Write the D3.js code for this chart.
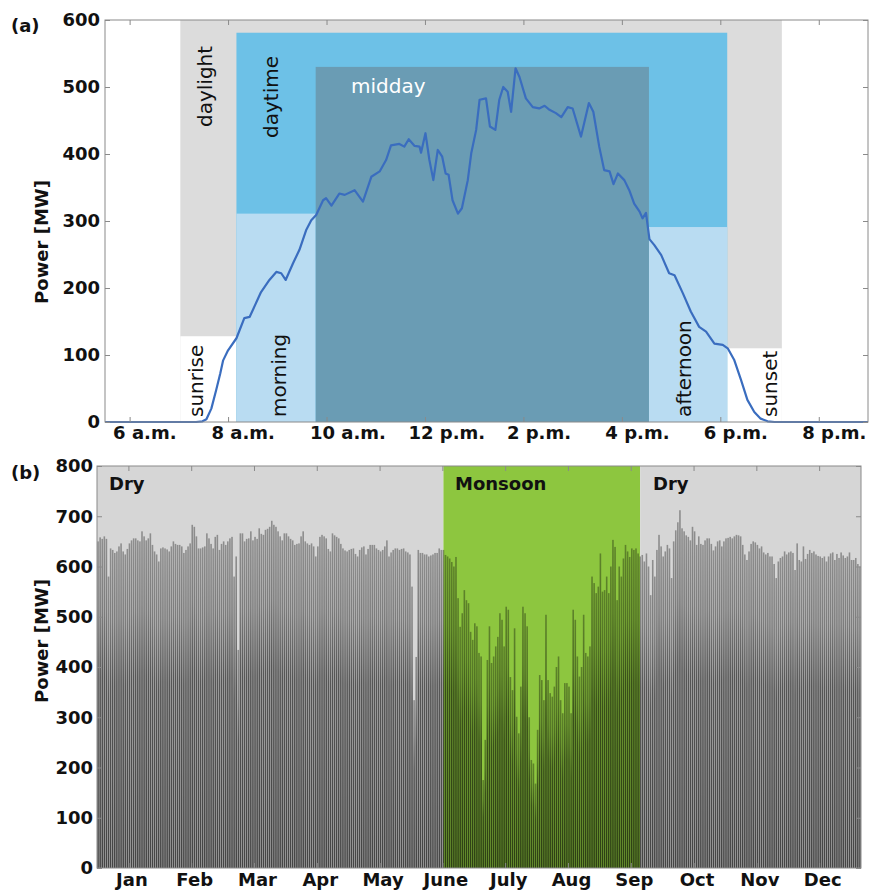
<!DOCTYPE html>
<html>
<head>
<meta charset="utf-8">
<script src="https://cdn.jsdelivr.net/npm/d3@7"></script>
<style>
  html, body { margin: 0; padding: 0; background: #fff; }
  svg { display: block; font-family: "DejaVu Sans", sans-serif; }
</style>
</head>
<body>
<svg id="chart" width="870" height="893"></svg>
<script>
// ---------------- DATA ----------------
// Panel (a): typical daily profile
const hourTicks = [6, 8, 10, 12, 14, 16, 18, 20];
const hourTickLabels = ["6 a.m.", "8 a.m.", "10 a.m.", "12 p.m.", "2 p.m.", "4 p.m.", "6 p.m.", "8 p.m."];
const powerTicksA = [0, 100, 200, 300, 400, 500, 600];

const profileHours = [5.5, 7.35, 7.48, 7.56, 7.66, 7.76, 7.84, 7.9, 8.0, 8.17, 8.33, 8.44, 8.67, 8.84, 8.98, 9.08, 9.17, 9.32, 9.45, 9.59, 9.69, 9.79, 9.93, 9.99, 10.10, 10.26, 10.37, 10.57, 10.74, 10.91, 11.08, 11.21, 11.31, 11.48, 11.58, 11.67, 11.79, 11.89, 11.92, 12.01, 12.09, 12.17, 12.26, 12.35, 12.42, 12.48, 12.56, 12.67, 12.75, 12.87, 12.94, 13.04, 13.11, 13.24, 13.32, 13.43, 13.51, 13.59, 13.68, 13.75, 13.84, 13.92, 14.05, 14.19, 14.32, 14.43, 14.53, 14.66, 14.77, 14.90, 15.0, 15.17, 15.33, 15.42, 15.54, 15.64, 15.75, 15.83, 15.92, 16.05, 16.15, 16.25, 16.36, 16.42, 16.49, 16.56, 16.66, 16.80, 16.96, 17.07, 17.24, 17.40, 17.57, 17.71, 17.88, 18.05, 18.15, 18.28, 18.42, 18.55, 18.69, 18.82, 18.96, 19.1, 21];
const profileMW = [0, 0, 1, 4, 20, 48, 72, 92, 107, 125, 155, 157, 194, 212, 224, 222, 212, 237, 257, 287, 301, 309, 331, 334, 323, 341, 339, 346, 329, 366, 374, 391, 413, 415, 411, 422, 412, 411, 402, 431, 391, 361, 406, 396, 371, 369, 331, 311, 319, 361, 401, 436, 481, 483, 441, 436, 481, 500, 493, 463, 528, 515, 483, 470, 468, 472, 466, 461, 455, 470, 468, 426, 476, 463, 411, 376, 374, 355, 371, 361, 346, 326, 314, 304, 312, 273, 264, 249, 222, 219, 192, 165, 142, 135, 117, 115, 110, 93, 63, 33, 15, 5, 1, 0, 0];

// Periods of the day (start hour, end hour, upper MW of shaded box)
const periodNames  = ["daylight", "sunrise", "sunset", "daytime", "morning", "afternoon", "midday"];
const periodStart  = [7.03, 7.03, 18.14, 8.17, 8.17, 16.55, 9.78];
const periodEnd    = [19.25, 8.17, 19.25, 18.14, 9.78, 18.14, 16.55];
const periodTopMW  = [600, 128, 110, 581, 311, 291, 530];

// Panel (b): one year of daily peaks
const powerTicksB = [0, 100, 200, 300, 400, 500, 600, 700, 800];
const monthLabels = ["Jan", "Feb", "Mar", "Apr", "May", "June", "July", "Aug", "Sep", "Oct", "Nov", "Dec"];
const monthTickDays = [15, 45, 75, 105, 135, 165, 195, 225, 255, 285, 315, 345];
const seasonNames = ["Dry", "Monsoon", "Dry"];
const seasonStartDay = [0, 165.5, 259.5];
const seasonEndDay = [165.5, 259.5, 365];

const dailyPeakMW = [
  650, 658, 655, 660, 655, 580, 636, 633, 627, 630, 640, 646, 630, 624, 635, 646, 652, 656, 656, 652,
  650, 670, 660, 652, 656, 666, 643, 630, 624, 610, 636, 638, 636, 634, 630, 640, 650, 645, 643, 643,
  640, 627, 633, 640, 646, 683, 679, 660, 636, 636, 638, 640, 666, 656, 645, 636, 659, 663, 633, 645,
  650, 643, 650, 656, 659, 580, 620, 434, 666, 666, 650, 655, 656, 670, 652, 659, 655, 676, 665, 663,
  673, 675, 679, 691, 683, 679, 670, 660, 652, 666, 666, 660, 655, 652, 643, 645, 646, 660, 670, 650,
  646, 643, 646, 640, 620, 640, 659, 663, 660, 656, 635, 630, 666, 662, 659, 656, 645, 636, 632, 630,
  633, 635, 636, 625, 620, 633, 638, 640, 624, 635, 643, 643, 643, 636, 633, 630, 633, 640, 652, 620,
  628, 633, 636, 636, 633, 635, 636, 630, 628, 624, 560, 334, 420, 633, 627, 627, 624, 624, 620, 622,
  624, 627, 627, 636, 633, 633, 623, 620, 616, 609, 600, 619, 537, 480, 507, 553, 533, 527, 470, 454,
  487, 481, 428, 421, 175, 255, 414, 481, 408, 421, 441, 460, 507, 494, 441, 520, 514, 380, 354, 477,
  301, 268, 361, 520, 507, 481, 300, 215, 208, 168, 275, 384, 374, 334, 504, 374, 348, 341, 361, 400,
  421, 334, 308, 368, 368, 361, 308, 514, 494, 421, 381, 400, 504, 428, 421, 441, 580, 567, 547, 560,
  626, 550, 553, 580, 547, 600, 653, 639, 533, 600, 580, 616, 643, 630, 619, 636, 633, 636, 626, 620,
  623, 610, 626, 600, 543, 613, 580, 633, 663, 640, 620, 630, 643, 636, 577, 650, 672, 688, 712, 676,
  670, 662, 659, 652, 679, 670, 643, 660, 645, 643, 652, 656, 656, 645, 632, 640, 650, 652, 640, 650,
  656, 657, 659, 656, 660, 663, 662, 660, 643, 624, 613, 630, 645, 650, 648, 643, 636, 640, 628, 624,
  627, 620, 620, 605, 577, 610, 617, 620, 630, 624, 628, 630, 627, 593, 646, 613, 610, 640, 615, 625,
  633, 627, 630, 624, 621, 620, 617, 620, 610, 620, 626, 628, 613, 625, 617, 628, 622, 617, 620, 628,
  613, 613, 617, 605, 600
];

// ---------------- DRAW ----------------
const svg = d3.select("#chart");
const FONT = "DejaVu Sans";
const frameColor = "#8a8a8a";

// ===== Panel (a) =====
const A = { left: 105, right: 868, top: 20, bottom: 422 };
const xa = d3.scaleLinear().domain([5.5, 21]).range([A.left, A.right]);
const ya = d3.scaleLinear().domain([0, 600]).range([A.bottom, A.top]);

const periodFill = {
  daylight: "#dcdcdc", sunrise: "#ffffff", sunset: "#ffffff",
  daytime: "#6dc1e7", morning: "#b9dcf2", afternoon: "#b9dcf2", midday: "#6a9cb4"
};
const gA = svg.append("g");
const periods = periodNames.map((n, i) => ({ name: n, s: periodStart[i], e: periodEnd[i], top: periodTopMW[i] }));
gA.selectAll("rect.period").data(periods).join("rect")
  .attr("class", "period")
  .attr("x", d => xa(d.s))
  .attr("width", d => xa(d.e) - xa(d.s))
  .attr("y", d => ya(d.top))
  .attr("height", d => ya(0) - ya(d.top))
  .attr("fill", d => periodFill[d.name]);

// period labels
const periodLabelPos = {
  daylight:  { x: 212, y: 127, rot: true, color: "#111" },
  daytime:   { x: 278, y: 138, rot: true, color: "#111" },
  midday:    { x: 351, y: 93,  rot: false, color: "#ffffff" },
  sunrise:   { x: 203, y: 417, rot: true, color: "#111" },
  morning:   { x: 286, y: 417, rot: true, color: "#111" },
  afternoon: { x: 691, y: 417, rot: true, color: "#111" },
  sunset:    { x: 777, y: 417, rot: true, color: "#111" }
};
periods.forEach(p => {
  const pos = periodLabelPos[p.name];
  gA.append("text")
    .attr("transform", `translate(${pos.x},${pos.y})` + (pos.rot ? " rotate(-90)" : ""))
    .attr("text-anchor", "start")
    .attr("font-family", FONT)
    .attr("font-size", 20)
    .attr("fill", pos.color)
    .text(p.name);
});

// line
const profile = profileHours.map((h, i) => ({ h, v: profileMW[i] }));
gA.append("path")
  .datum(profile)
  .attr("fill", "none")
  .attr("stroke", "#3a6dbf")
  .attr("stroke-width", 2.2)
  .attr("stroke-linejoin", "round")
  .attr("d", d3.line().x(d => xa(d.h)).y(d => ya(d.v)));

// frame + axes
function styleAxis(g, showText) {
  g.select(".domain").remove();
  g.selectAll(".tick line").attr("stroke", frameColor);
  g.selectAll(".tick text")
    .attr("font-family", FONT).attr("font-weight", "bold")
    .attr("font-size", 18).attr("fill", "#111");
  if (!showText) g.selectAll(".tick text").remove();
}
gA.append("rect").attr("x", A.left).attr("y", A.top)
  .attr("width", A.right - A.left).attr("height", A.bottom - A.top)
  .attr("fill", "none").attr("stroke", frameColor).attr("stroke-width", 1);

gA.append("g").attr("transform", `translate(${A.left},0)`)
  .call(d3.axisLeft(ya).tickValues(powerTicksA).tickSize(-5).tickPadding(5).tickFormat(d3.format("d")))
  .call(g => styleAxis(g, true));
gA.append("g").attr("transform", `translate(${A.right},0)`)
  .call(d3.axisRight(ya).tickValues(powerTicksA).tickSize(-5))
  .call(g => styleAxis(g, false));
gA.append("g").attr("transform", `translate(0,${A.top})`)
  .call(d3.axisTop(xa).tickValues(hourTicks).tickSize(-5))
  .call(g => styleAxis(g, false));
gA.append("g").attr("transform", `translate(0,${A.bottom})`)
  .call(d3.axisBottom(xa).tickValues(hourTicks).tickSize(-5).tickPadding(4)
        .tickFormat((d, i) => hourTickLabels[i]))
  .call(g => styleAxis(g, true))
  .call(g => g.selectAll(".tick text").attr("text-anchor", "start").attr("x", -17));

svg.append("text").attr("transform", `translate(48,242) rotate(-90)`)
  .attr("text-anchor", "middle").attr("font-family", FONT).attr("font-weight", "bold")
  .attr("font-size", 18).attr("fill", "#111").text("Power [MW]");
svg.append("text").attr("x", 11).attr("y", 32)
  .attr("font-family", FONT).attr("font-weight", "bold").attr("font-size", 18).attr("fill", "#111").text("(a)");

// ===== Panel (b) =====
const B = { left: 97, right: 861, top: 466, bottom: 868 };
const xb = d3.scaleLinear().domain([0, 365]).range([B.left, B.right]);
const yb = d3.scaleLinear().domain([0, 800]).range([B.bottom, B.top]);
const gB = svg.append("g");

const defs = svg.append("defs");
const grad = defs.append("linearGradient").attr("id", "barGrad")
  .attr("x1", 0).attr("y1", 0).attr("x2", 0).attr("y2", 1);
[[0, 0.34], [0.22, 0.42], [0.42, 0.6], [1, 0.68]].forEach(([o, a]) =>
  grad.append("stop").attr("offset", o).attr("stop-color", "#000").attr("stop-opacity", a));

const seasons = seasonNames.map((n, i) => ({ name: n, s: seasonStartDay[i], e: seasonEndDay[i] }));
gB.selectAll("rect.season").data(seasons).join("rect")
  .attr("class", "season")
  .attr("x", d => xb(d.s)).attr("width", d => xb(d.e) - xb(d.s))
  .attr("y", B.top).attr("height", B.bottom - B.top)
  .attr("fill", d => d.name === "Monsoon" ? "#8dc63f" : "#d6d6d6");

const dayW = xb(1) - xb(0);
gB.selectAll("rect.day").data(dailyPeakMW).join("rect")
  .attr("class", "day")
  .attr("x", (d, i) => xb(i) + 0.25)
  .attr("width", dayW - 0.5)
  .attr("y", d => yb(d))
  .attr("height", d => yb(0) - yb(d))
  .attr("fill", "url(#barGrad)");

// season labels
const seasonLabelX = [109, 455, 653];
seasons.forEach((s, i) => {
  gB.append("text").attr("x", seasonLabelX[i]).attr("y", 490)
    .attr("font-family", FONT).attr("font-weight", "bold").attr("font-size", 18)
    .attr("fill", "#111").text(s.name);
});

gB.append("rect").attr("x", B.left).attr("y", B.top)
  .attr("width", B.right - B.left).attr("height", B.bottom - B.top)
  .attr("fill", "none").attr("stroke", frameColor).attr("stroke-width", 1);

gB.append("g").attr("transform", `translate(${B.left},0)`)
  .call(d3.axisLeft(yb).tickValues(powerTicksB).tickSize(-5).tickPadding(4).tickFormat(d3.format("d")))
  .call(g => styleAxis(g, true));
gB.append("g").attr("transform", `translate(${B.right},0)`)
  .call(d3.axisRight(yb).tickValues(powerTicksB).tickSize(-5))
  .call(g => styleAxis(g, false));
gB.append("g").attr("transform", `translate(0,${B.top})`)
  .call(d3.axisTop(xb).tickValues(monthTickDays).tickSize(-5))
  .call(g => styleAxis(g, false));
gB.append("g").attr("transform", `translate(0,${B.bottom})`)
  .call(d3.axisBottom(xb).tickValues(monthTickDays).tickSize(-5).tickPadding(5)
        .tickFormat((d, i) => monthLabels[i]))
  .call(g => styleAxis(g, true))
  .call(g => g.selectAll(".tick text").attr("x", 3));

svg.append("text").attr("transform", `translate(48,641) rotate(-90)`)
  .attr("text-anchor", "middle").attr("font-family", FONT).attr("font-weight", "bold")
  .attr("font-size", 18).attr("fill", "#111").text("Power [MW]");
svg.append("text").attr("x", 11).attr("y", 479)
  .attr("font-family", FONT).attr("font-weight", "bold").attr("font-size", 18).attr("fill", "#111").text("(b)");
</script>
</body>
</html>
